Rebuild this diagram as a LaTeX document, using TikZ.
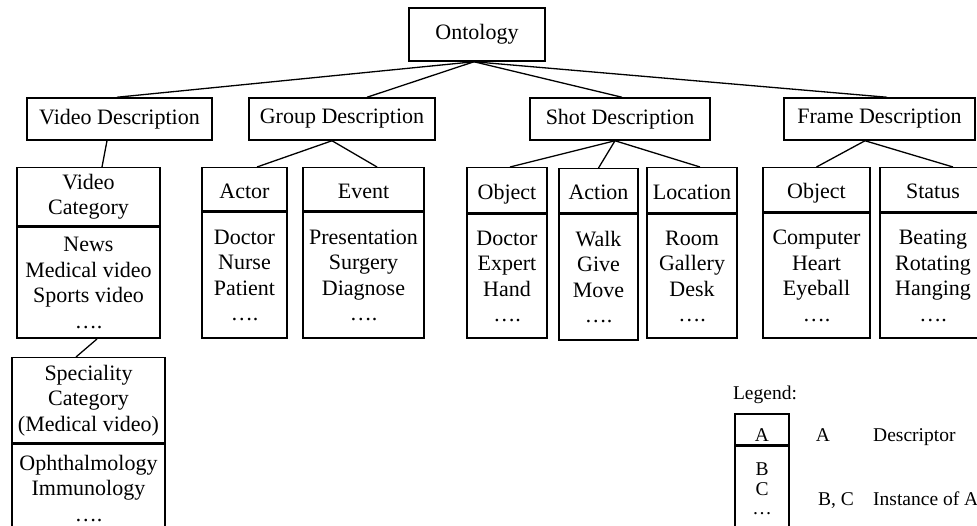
\documentclass[tikz,border=0pt]{standalone}
\usepackage{fontspec}
\setmainfont{Liberation Serif}
\usetikzlibrary{positioning}
\tikzset{
  level/.style={draw,line width=1.5pt,inner sep=0pt,align=center,
    font=\fontsize{22}{25.5}\selectfont,minimum height=42pt},
  descriptor/.style={level,anchor=north},
  onerow/.style={text height=18pt,text depth=0pt},
  instances/.style={level,below=0pt of #1},
  link/.style={line width=1.3pt},
  legend/.style={inner sep=0pt,align=center,font=\fontsize{19.5}{19.5}\selectfont}
}

\begin{document}
\begin{tikzpicture}[x=1pt,y=-1pt]
  \useasboundingbox (0,0) rectangle (977,526);
  % top levels
  \node[level,minimum width=136pt,minimum height=53pt] (onto) at (477,34.5) {Ontology};
  \node[level,minimum width=185pt] (vd) at (119.5,119) {Video Description};
  \node[level,minimum width=186pt] (gd) at (342,119) {Group Description};
  \node[level,minimum width=180pt] (sd) at (620,119) {Shot Description};
  \node[level,minimum width=191pt] (fd) at (879.5,119) {Frame Description};
  % video
  \node[descriptor,minimum width=143pt,minimum height=58pt] (vcath) at (88.5,167) {Video\\Category};
  \node[instances=vcath,minimum width=143pt,minimum height=111pt] (vcatb) {News\\Medical video\\Sports video\\….};
  \node[descriptor,minimum width=153pt,minimum height=85pt] (spech) at (88.5,357) {Speciality\\Category\\(Medical video)};
  \node[instances=spech,minimum width=153pt,minimum height=88pt] (specb) {Ophthalmology\\Immunology\\….};
  % group
  \node[descriptor,onerow,minimum width=85pt,minimum height=43pt] (actorh) at (244.5,167) {Actor};
  \node[instances=actorh,minimum width=85pt,minimum height=126pt] (actorb) {Doctor\\Nurse\\Patient\\….};
  \node[descriptor,onerow,minimum width=121pt,minimum height=43pt] (eventh) at (363.5,167) {Event};
  \node[instances=eventh,minimum width=121pt,minimum height=126pt] (eventb) {Presentation\\Surgery\\Diagnose\\….};
  % shot
  \node[descriptor,onerow,minimum width=80pt,minimum height=45pt] (sobjh) at (507,167) {Object};
  \node[instances=sobjh,minimum width=80pt,minimum height=124pt] (sobjb) {Doctor\\Expert\\Hand\\….};
  \node[descriptor,onerow,minimum width=79pt,minimum height=44pt] (sacth) at (598.5,168) {Action};
  \node[instances=sacth,minimum width=79pt,minimum height=126pt] (sactb) {Walk\\Give\\Move\\….};
  \node[descriptor,onerow,minimum width=90pt,minimum height=45pt] (sloch) at (692,167) {Location};
  \node[instances=sloch,minimum width=90pt,minimum height=124pt] (slocb) {Room\\Gallery\\Desk\\….};
  % frame
  \node[descriptor,onerow,minimum width=107pt,minimum height=44pt] (fobjh) at (816.5,167) {Object};
  \node[instances=fobjh,minimum width=107pt,minimum height=125pt] (fobjb) {Computer\\Heart\\Eyeball\\….};
  \node[descriptor,onerow,minimum width=106pt,minimum height=44pt] (fstah) at (933,167) {Status};
  \node[instances=fstah,minimum width=106pt,minimum height=125pt] (fstab) {Beating\\Rotating\\Hanging\\….};
  % legend
  \node[legend] (lgtitle) at (765,395) {Legend:};
  \node[legend,draw,line width=1.5pt,anchor=north,minimum width=54pt,minimum height=31pt,
    text height=25pt,text depth=0pt] (lgh) at (762,413) {A};
  \node[legend,draw,line width=1.5pt,below=0pt of lgh,minimum width=54pt,minimum height=86pt] (lgb) {B\\C\\…};
  \node[legend,anchor=base] (lga) at (823,441) {A};
  \node[legend,anchor=base west] (lgdesc) at (873,441) {Descriptor};
  \node[legend,anchor=base west] (lgbc) at (818,505) {B, C};
  \node[legend,anchor=base west] (lginst) at (873,505) {Instance of A};

  \path[link]
    ([xshift=-3pt]onto.south) edge ([xshift=-2.5pt]vd.north)
    ([xshift=-3pt]onto.south) edge ([xshift=25pt]gd.north)
    ([xshift=-3pt]onto.south) edge ([xshift=2pt]sd.north)
    ([xshift=-3pt]onto.south) edge ([xshift=7.5pt]fd.north)
    ([xshift=-12.5pt]vd.south) edge ([xshift=13.5pt]vcath.north)
    ([xshift=8.5pt]vcatb.south) edge ([xshift=-12.5pt]spech.north)
    ([xshift=-10pt]gd.south) edge ([xshift=12.5pt]actorh.north)
    ([xshift=-10pt]gd.south) edge ([xshift=13.5pt]eventh.north)
    ([xshift=-5pt]sd.south) edge ([xshift=3pt]sobjh.north)
    ([xshift=-5pt]sd.south) edge (sacth.north)
    ([xshift=-5pt]sd.south) edge ([xshift=8pt]sloch.north)
    ([xshift=-14.5pt]fd.south) edge (fobjh.north)
    ([xshift=-14.5pt]fd.south) edge ([xshift=20pt]fstah.north);
\end{tikzpicture}
\end{document}
